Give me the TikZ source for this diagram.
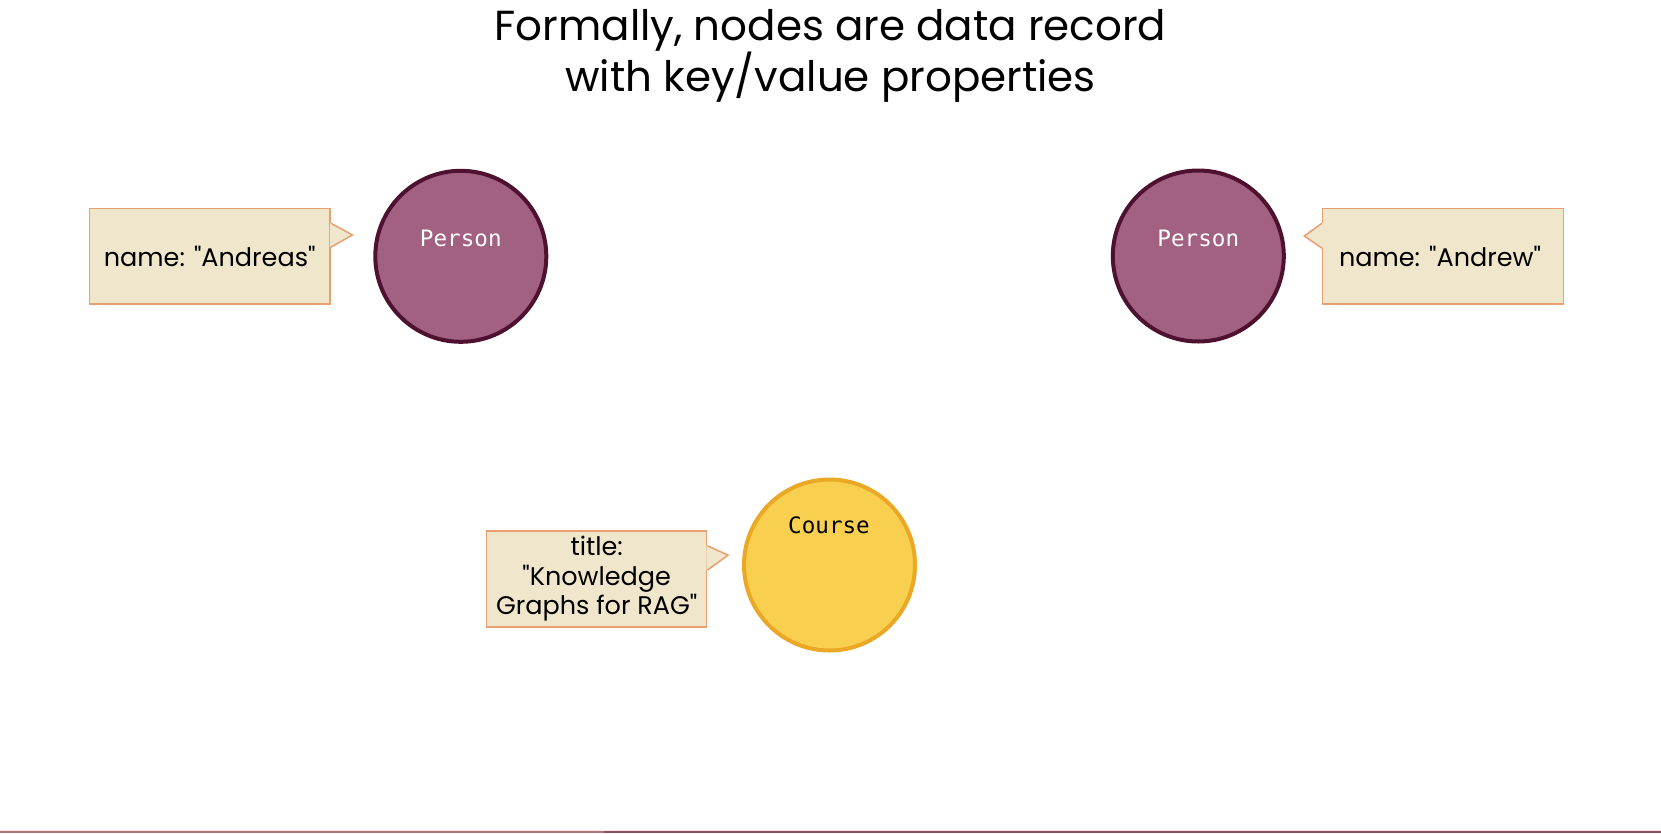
\documentclass[tikz,border=0pt]{standalone}
\usepackage{fontspec}
\setmainfont{Poppins}[Ligatures=TeXOff]
\newfontfamily\monofont{DejaVu Sans Mono}
\usetikzlibrary{calc}
\definecolor{pfill}{RGB}{162,97,128}
\definecolor{pborder}{RGB}{78,18,48}
\definecolor{yfill}{RGB}{249,207,80}
\definecolor{yborder}{RGB}{235,168,36}
\definecolor{cfill}{RGB}{240,230,203}
\definecolor{cborder}{RGB}{232,160,112}
\definecolor{barA}{RGB}{170,120,120}
\definecolor{barB}{RGB}{138,80,92}
\definecolor{barC}{RGB}{250,225,228}
\tikzset{
  personnode/.style={circle, fill=pfill, draw=pborder, line width=4pt, minimum size=171pt, inner sep=0pt},
  coursenode/.style={circle, fill=yfill, draw=yborder, line width=4pt, minimum size=171pt, inner sep=0pt},
  nodelabel/.style={font=\monofont\fontsize{22.6}{26}\selectfont, anchor=base, inner sep=0pt},
  callout/.style={rectangle, fill=cfill, draw=cborder, line width=1.5pt, inner sep=0pt, align=center,
    font=\fontsize{25.5}{29.6}\selectfont, text=black},
  cedge/.style={draw=cborder, line width=1.5pt, line join=miter},
}
\begin{document}
\begin{tikzpicture}[x=1pt,y=-1pt]
\useasboundingbox (0,0) rectangle (1661,833);
\fill[white] (0,0) rectangle (1661,833);
% title
\node[align=center, font=\fontsize{42}{51}\selectfont, inner sep=0pt] (title) at (830.5,56)
  {Formally, nodes are data record\\with key/value properties};
% circles
\node[personnode] (p1) at (460.8,256.3) {};
\node[personnode] (p2) at (1198.3,256) {};
\node[coursenode] (c) at (829.5,565) {};
\node[nodelabel, text=white] (p1l) at (460.8,246) {Person};
\node[nodelabel, text=white] (p2l) at (1198.3,246) {Person};
\node[nodelabel, text=black] (cl) at (829,533.3) {Course};
% callouts
\node[callout, minimum width=240.7pt, minimum height=95.7pt] (ca) at (209.7,256.2) {name: "Andreas"};
\node[callout, minimum width=240.6pt, minimum height=95.7pt] (cb) at (1443,256.2) {\hspace*{-6pt}name: "Andrew"};
\node[callout, minimum width=220pt, minimum height=95.7pt] (cc) at (596.7,579) {title:\\"Knowledge\\Graphs for RAG"};
% pointers
\coordinate (ta) at ($(ca.east)+(21.7,-21.2)$);
\fill[cfill] ($(ca.east)+(-1,-33)$) -- ($(ca.east)+(0,-33)$) -- (ta) -- ($(ca.east)+(0,-9)$) -- ($(ca.east)+(-1,-9)$) -- cycle;
\draw[cedge] ($(ca.east)+(0,-33)$) -- (ta) -- ($(ca.east)+(0,-9)$);
\coordinate (tb) at ($(cb.west)+(-17.7,-20.2)$);
\fill[cfill] ($(cb.west)+(1,-33)$) -- ($(cb.west)+(0,-33)$) -- (tb) -- ($(cb.west)+(0,-8)$) -- ($(cb.west)+(1,-8)$) -- cycle;
\draw[cedge] ($(cb.west)+(0,-33)$) -- (tb) -- ($(cb.west)+(0,-8)$);
\coordinate (tc) at ($(cc.east)+(20.6,-23.9)$);
\fill[cfill] ($(cc.east)+(-1,-33.2)$) -- ($(cc.east)+(0,-33.2)$) -- (tc) -- ($(cc.east)+(0,-8.9)$) -- ($(cc.east)+(-1,-8.9)$) -- cycle;
\draw[cedge] ($(cc.east)+(0,-33.2)$) -- (tc) -- ($(cc.east)+(0,-8.9)$);
% bottom bar
\fill[barC] (0,829.5) rectangle (1661,830.8);
\fill[barA] (0,830.8) rectangle (604,833);
\fill[barB] (604,830.8) rectangle (1661,833);
\end{tikzpicture}
\end{document}
